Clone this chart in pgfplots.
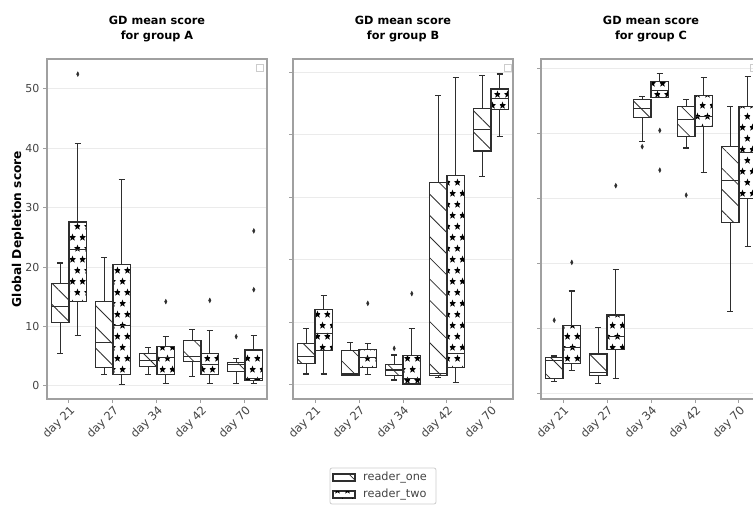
\documentclass[border=0pt]{standalone}
\usepackage{fontspec}
\setmainfont{DejaVu Sans}
\usepackage{pgfplots}
\pgfplotsset{compat=1.18}
\usepgfplotslibrary{statistics}
\usetikzlibrary{patterns.meta}

\tikzdeclarepattern{
  name=stars,
  type=colored,
  bottom left={(-0.1pt,-0.1pt)},
  top right={(10.1pt,22.1pt)},
  tile size={(10pt,22pt)},
  code={
    \tikzset{x=1pt,y=1pt}
    \fill[black, shift={(2.5,5.5)}] (90:3.9) -- (126:1.6) -- (162:3.9) -- (198:1.6) -- (234:3.9) -- (270:1.6) -- (306:3.9) -- (342:1.6) -- (18:3.9) -- (54:1.6) -- cycle;
    \fill[black, shift={(7.5,16.5)}] (90:3.9) -- (126:1.6) -- (162:3.9) -- (198:1.6) -- (234:3.9) -- (270:1.6) -- (306:3.9) -- (342:1.6) -- (18:3.9) -- (54:1.6) -- cycle;
  }
}

\definecolor{spine}{HTML}{A0A0A0}
\definecolor{gridc}{HTML}{EBEBEB}
\definecolor{boxc}{HTML}{2E2E2E}
\definecolor{tickc}{HTML}{444444}
\definecolor{legc}{HTML}{CCCCCC}

\pgfplotsset{
  gd/.style={
    scale only axis, width=220pt, height=340pt,
    anchor=south west,
    xmin=-0.5, xmax=4.5,
    xtick={0,1,2,3,4},
    xticklabels={day 21,day 27,day 34,day 42,day 70},
    ytick={0,10,20,30,40,50},
    tick pos=left, tick align=outside, major tick length=4pt,
    tick style={spine, line width=1pt},
    axis line style={spine, line width=1.4pt},
    ymajorgrids, grid style={gridc, line width=1pt},
    /pgf/number format/assume math mode=true,
    x tick label style={rotate=45, anchor=north east, font=\fontsize{11.5}{13}\selectfont, text=tickc, inner sep=1pt},
    y tick label style={font=\fontsize{11}{13}\selectfont, text=tickc},
    title style={font=\bfseries\fontsize{11.3}{15}\selectfont, align=center, yshift=8pt},
    ylabel style={font=\bfseries\fontsize{12.2}{14}\selectfont, yshift=-5pt},
  },
  common/.style={
    boxplot/draw direction=y,
    draw=boxc, line width=1.1pt,
    mark=diamond*, mark size=2.3pt,
    mark options={fill=boxc, draw=boxc, xscale=0.7, line width=0.5pt},
    boxplot/box extend=0.4,
    boxplot/whisker extend=0.14,
  },
  r1/.style={common,
    boxplot/every box/.style={fill=white, postaction={pattern={Lines[angle=-45,distance=15pt,line width=0.8pt]}, pattern color=boxc}},
  },
  r2/.style={common,
    boxplot/every box/.style={fill=white, postaction={pattern=stars}},
  },
}

% #1 style, #2 position, #3 lower whisker, #4 Q1, #5 median, #6 Q3, #7 upper whisker, #8 outliers
\newcommand{\bp}[8]{\addplot[#1, boxplot prepared={draw position=#2, lower whisker=#3, lower quartile=#4, median=#5, upper quartile=#6, upper whisker=#7}] coordinates {#8};}

\begin{document}
\begin{tikzpicture}
\path[use as bounding box] (0pt,0pt) rectangle (753pt,507pt);

% ---------------- group A
\begin{axis}[gd, at={(47pt,108pt)}, ymin=-2.2, ymax=55.05,
  title={GD mean score\\for group A}, ylabel={Global Depletion score}]
\bp{r1}{-0.2}{5.5}{10.65}{13.35}{17.3}{20.7}{}
\bp{r2}{0.2}{8.5}{14.2}{23.0}{27.6}{40.85}{(0,52.5)}
\bp{r1}{0.8}{1.85}{3.1}{7.35}{14.2}{21.7}{}
\bp{r2}{1.2}{0.3}{2.0}{10.15}{20.5}{34.8}{}
\bp{r1}{1.8}{2.0}{3.25}{4.25}{5.4}{6.5}{}
\bp{r2}{2.2}{0.45}{1.85}{4.8}{6.6}{8.3}{(0,14.2)}
\bp{r1}{2.8}{1.55}{4.1}{4.95}{7.6}{9.55}{}
\bp{r2}{3.2}{0.45}{1.85}{3.55}{5.4}{9.3}{(0,14.4)}
\bp{r1}{3.8}{0.45}{2.4}{3.65}{3.9}{4.55}{(0,8.3)}
\bp{r2}{4.2}{0.35}{0.9}{1.2}{6.05}{8.5}{(0,16.2) (0,26.1)}
\end{axis}

% ---------------- group B
\begin{axis}[gd, at={(293pt,108pt)}, ymin=-2.24, ymax=52.1, yticklabels={},
  title={GD mean score\\for group B}]
\bp{r1}{-0.2}{1.75}{3.45}{4.5}{6.65}{9.05}{}
\bp{r2}{0.2}{1.75}{5.45}{8.25}{12.0}{14.3}{}
\bp{r1}{0.8}{1.6}{1.6}{1.85}{5.45}{6.75}{}
\bp{r2}{1.2}{1.7}{2.8}{4.4}{5.7}{6.65}{(0,13.05)}
\bp{r1}{1.8}{0.8}{1.45}{2.4}{3.3}{4.8}{(0,5.85)}
\bp{r2}{2.2}{0.15}{0.15}{1.0}{4.7}{9.05}{(0,14.6)}
\bp{r1}{2.8}{1.15}{1.5}{1.85}{32.3}{46.2}{}
\bp{r2}{3.2}{0.4}{2.75}{5.05}{33.5}{49.1}{}
\bp{r1}{3.8}{33.3}{37.4}{40.9}{44.2}{49.4}{}
\bp{r2}{4.2}{39.7}{44.05}{45.8}{47.3}{49.7}{}
\end{axis}

% ---------------- group C
\begin{scope}
\clip (0pt,0pt) rectangle (753pt,507pt);
\begin{axis}[gd, at={(541pt,108pt)}, ymin=-0.92, ymax=51.4, yticklabels={},
  title={GD mean score\\for group C}]
\bp{r1}{-0.2}{1.75}{2.3}{5.0}{5.4}{5.7}{(0,11.2)}
\bp{r2}{0.2}{3.45}{4.55}{6.95}{10.35}{15.7}{(0,20.1)}
\bp{r1}{0.8}{1.4}{2.75}{3.1}{6.0}{10.1}{}
\bp{r2}{1.2}{2.3}{6.7}{8.65}{12.0}{19.0}{(0,31.9)}
\bp{r1}{1.8}{38.7}{42.35}{43.8}{45.1}{45.6}{(0,37.9)}
\bp{r2}{2.2}{45.5}{45.5}{46.6}{48.0}{49.1}{(0,40.4) (0,34.3)}
\bp{r1}{2.8}{37.7}{39.5}{42.15}{44.05}{45.1}{(0,30.45)}
\bp{r2}{3.2}{33.9}{41.0}{42.5}{45.85}{48.5}{}
\bp{r1}{3.8}{12.5}{26.2}{32.7}{37.9}{44.15}{}
\bp{r2}{4.2}{22.5}{29.9}{37.0}{44.1}{48.7}{}
\end{axis}
\draw[legc, line width=0.6pt] (750pt,436pt) rectangle (757pt,443pt);
\end{scope}

% empty legend boxes inside each panel
\draw[legc, line width=0.6pt] (256pt,436pt) rectangle (263pt,443pt);
\draw[legc, line width=0.6pt] (504pt,436pt) rectangle (511pt,443pt);

% bottom legend
\draw[legc, line width=0.8pt, rounded corners=2pt, fill=white] (330pt,3pt) rectangle (436pt,39pt);
\draw[boxc, line width=1.1pt, fill=white, postaction={pattern={Lines[angle=-45,distance=15pt,line width=0.8pt]}, pattern color=boxc}] (333pt,26pt) rectangle (355pt,33pt);
\draw[boxc, line width=1.1pt, fill=white, postaction={pattern=stars}] (333pt,9pt) rectangle (355pt,16pt);
\node[anchor=west, font=\fontsize{11.3}{13}\selectfont, text=tickc, inner sep=0pt] at (363pt,29.5pt) {reader\_one};
\node[anchor=west, font=\fontsize{11.3}{13}\selectfont, text=tickc, inner sep=0pt] at (363pt,12.5pt) {reader\_two};
\end{tikzpicture}
\end{document}
